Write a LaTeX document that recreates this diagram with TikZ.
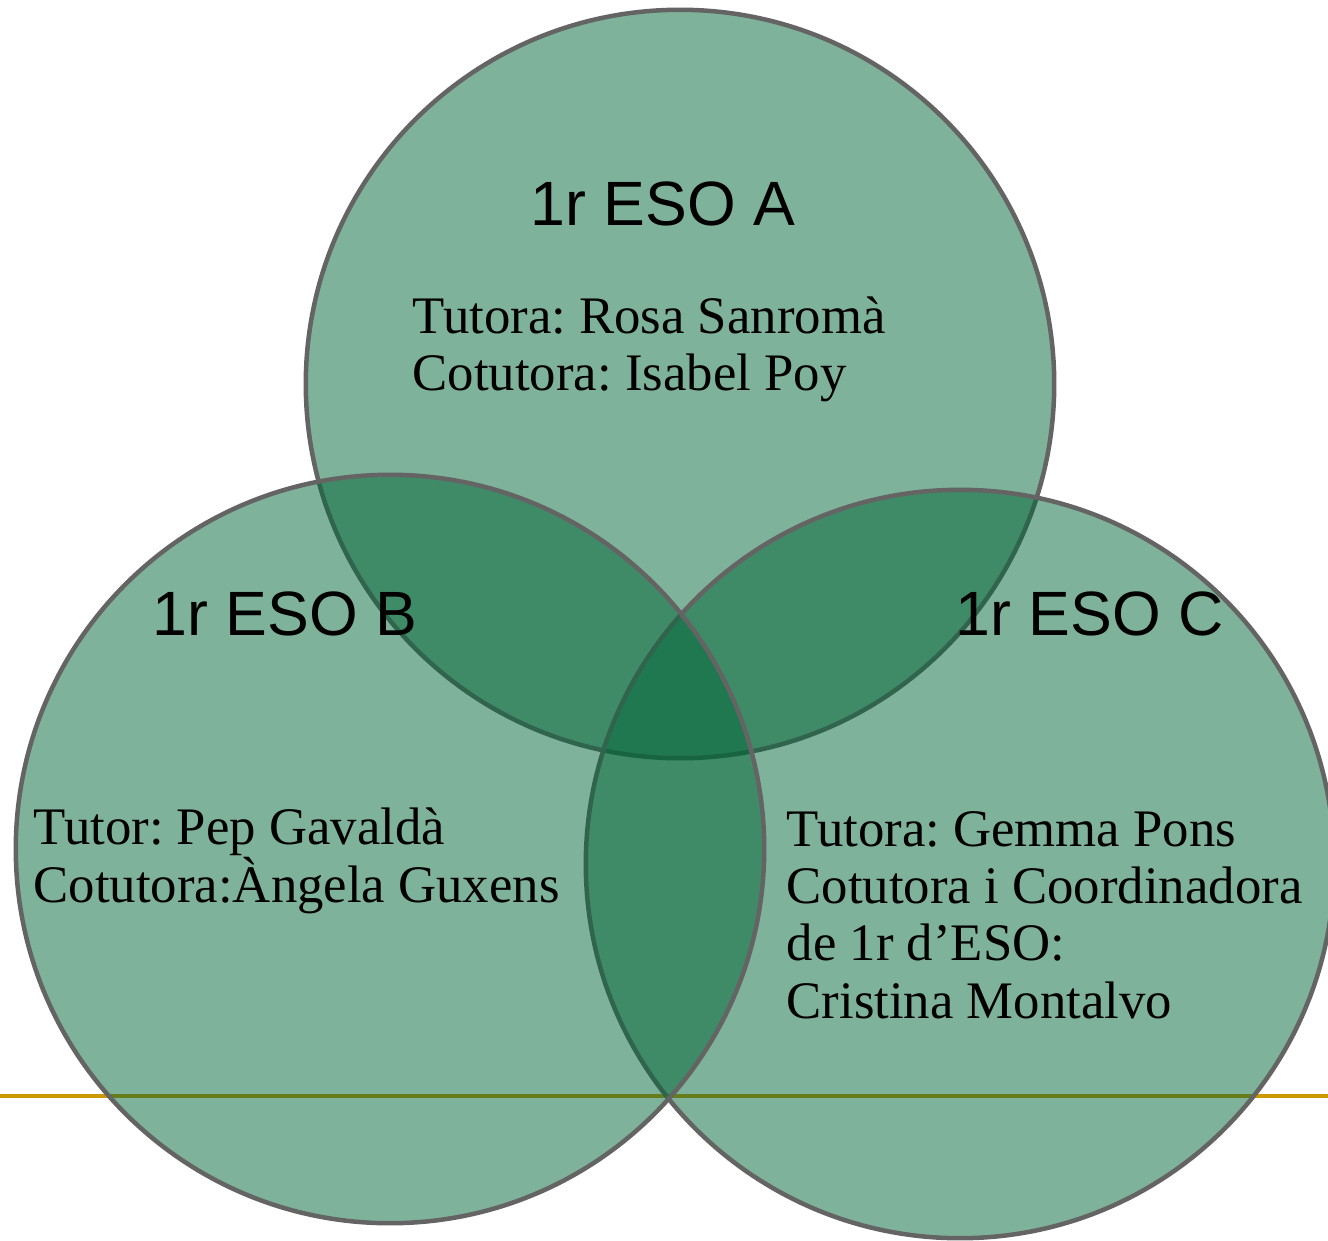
\documentclass[tikz,border=0pt]{standalone}
\usepackage{fontspec}
\setmainfont{Liberation Serif}
\newfontfamily\titolfont{Liberation Sans}
\frenchspacing
\definecolor{verd}{RGB}{0,101,55}
\definecolor{vora}{RGB}{100,100,100}
\definecolor{daurat}{RGB}{204,153,0}
\tikzset{
  cercle/.style={circle, draw=vora, line width=0.45mm, fill=verd, fill opacity=0.5, draw opacity=1, minimum size=7.48cm, inner sep=0pt},
  titol/.style={anchor=base west, inner sep=0pt, font=\titolfont\fontsize{17.8}{20}\selectfont},
  noms/.style={anchor=base west, inner sep=0pt, align=left, font=\fontsize{15}{16.3}\selectfont}
}
\begin{document}
\begin{tikzpicture}[x=0.01cm, y=-0.01cm]
			\useasboundingbox (0,0) rectangle (1328,1240);
			%Línia de fons
			\coordinate (L1) at (0,1096);
			\coordinate (L2) at (1328,1096);
			\draw[daurat, line width=0.4mm] (L1) -- (L2);
			%Cercles del diagrama
			\node[cercle] (ESOA) at (680,384) {};
			\node[cercle] (ESOC) at (960,864) {};
			\node[cercle] (ESOB) at (390,849) {};
			%Títols
			\node[titol] (tA) at (530,226) {1r ESO A};
			\node[titol] (tB) at (152,635) {1r ESO B};
			\node[titol] (tC) at (955,635) {1r ESO C};
			%Tutors (ancorats a la base de l'última línia)
			\node[noms] (nA) at (412,391) {Tutora: Rosa Sanromà\\Cotutora: Isabel Poy};
			\node[noms] (nB) at (33,902) {Tutor: Pep Gavaldà\\Cotutora:Àngela Guxens};
			\node[noms] (nC) at (786,1018) {Tutora: Gemma Pons\\Cotutora i Coordinadora\\de 1r d’ESO:\\Cristina Montalvo};
		\end{tikzpicture}
\end{document}
